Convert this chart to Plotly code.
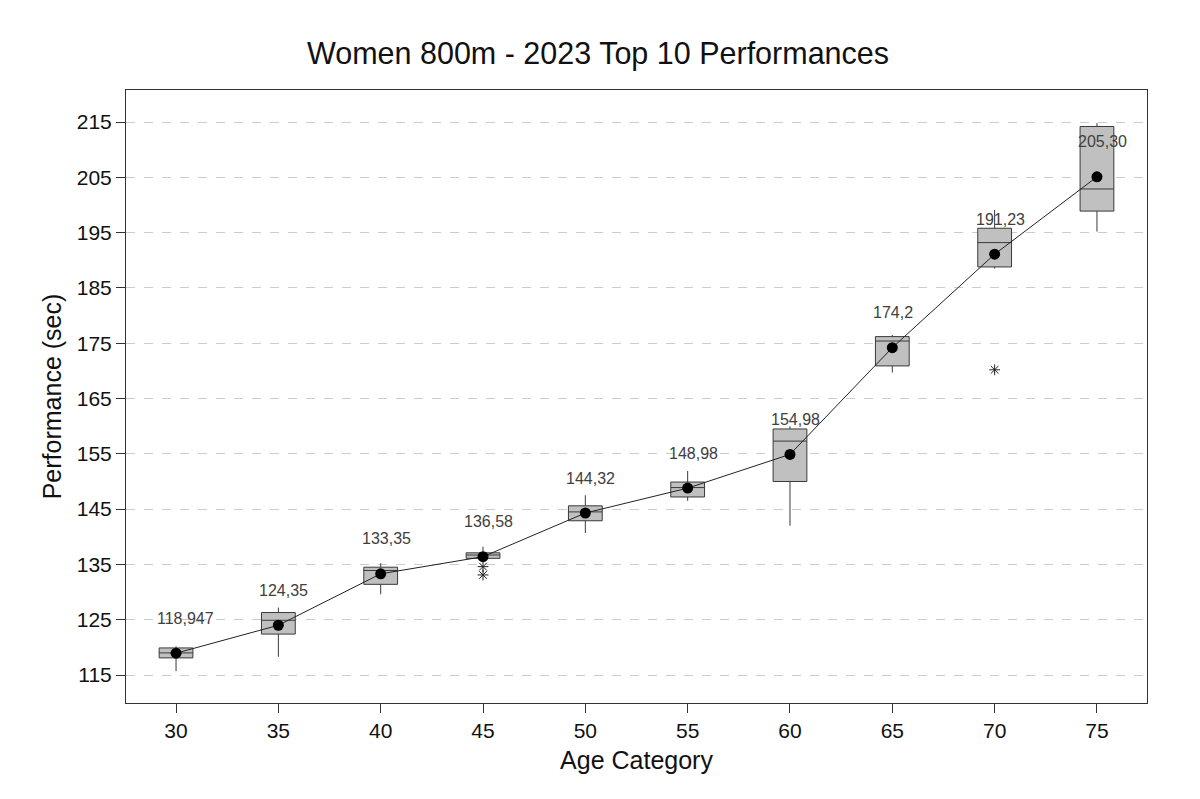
import plotly.graph_objects as go

categories = ["30", "35", "40", "45", "50", "55", "60", "65", "70", "75"]
q1 = [118.1, 122.4, 131.4, 136.1, 142.9, 147.2, 150.0, 170.9, 188.8, 198.9]
median = [119.0, 124.9, 133.9, 136.7, 144.5, 148.9, 157.3, 175.4, 193.2, 202.9]
q3 = [119.9, 126.3, 134.5, 137.1, 145.6, 149.9, 159.5, 176.2, 195.8, 214.2]
lower_whisker = [115.7, 118.3, 129.6, 136.1, 140.7, 146.5, 142.0, 169.7, 188.5, 195.2]
upper_whisker = [120.2, 127.2, 135.2, 138.2, 147.5, 151.9, 160.0, 176.5, 199.1, 214.8]
means = [118.947, 124.0, 133.3, 136.4, 144.3, 148.8, 154.9, 174.2, 191.1, 205.1]
mean_labels = ["118,947", "124,35", "133,35", "136,58", "144,32", "148,98", "154,98", "174,2", "191,23", "205,30"]
outlier_x = ["45", "45", "70"]
outlier_y = [134.6, 133.1, 170.2]

W, H = 1184, 783  # page body has an 8px margin

fig = go.Figure()

fig.add_trace(go.Box(
    x=categories, q1=q1, median=median, q3=q3,
    lowerfence=lower_whisker, upperfence=upper_whisker,
    boxpoints=False, width=0.33, whiskerwidth=0,
    fillcolor="#c0c0c0", line=dict(color="#3a3a3a", width=1),
    showlegend=False, hoverinfo="skip",
))

fig.add_trace(go.Scatter(
    x=categories, y=means, mode="lines",
    line=dict(color="#222222", width=1), showlegend=False,
))
fig.add_trace(go.Scatter(
    x=categories, y=means, mode="markers",
    marker=dict(color="black", size=11), showlegend=False,
))
fig.add_trace(go.Scatter(
    x=outlier_x, y=outlier_y, mode="markers",
    marker=dict(symbol="asterisk-open", size=9, color="#222222",
                line=dict(color="#222222", width=1)),
    showlegend=False,
))

for i, (m, t) in enumerate(zip(means, mean_labels)):
    fig.add_annotation(x=i, y=m, xref="x", yref="y", text=t, showarrow=False,
                       xanchor="left", yanchor="middle", xshift=-21, yshift=35,
                       font=dict(size=16, color="#404040", family="Arial, Liberation Sans"))

fig.update_layout(
    width=W, height=H,
    paper_bgcolor="white", plot_bgcolor="white",
    margin=dict(l=118, r=45, t=82, b=88),
    font=dict(family="Arial, Liberation Sans", color="#111111"),
    title=dict(text="Women 800m - 2023 Top 10 Performances", x=(598 - 8) / W, xanchor="center",
               y=1 - 45 / H, yanchor="middle", font=dict(size=30.5, color="#111111")),
)
fig.update_xaxes(
    type="category", range=[-0.489, 9.489],
    title=dict(text="Age Category", font=dict(size=25), standoff=10),
    tickfont=dict(size=21), ticks="outside", ticklen=9, tickcolor="#333",
    showline=True, linecolor="#333", linewidth=1, mirror=True, showgrid=False,
)
fig.update_yaxes(
    range=[109.94, 220.8], tickvals=list(range(115, 216, 10)),
    title=dict(text="Performance (sec)", font=dict(size=25), standoff=8),
    tickfont=dict(size=21), ticks="outside", ticklen=9, tickcolor="#333",
    showline=True, linecolor="#333", linewidth=1, mirror=True,
    showgrid=True, gridcolor="#cccccc", griddash="dash", gridwidth=1, zeroline=False,
)

fig.write_html("out.html")
